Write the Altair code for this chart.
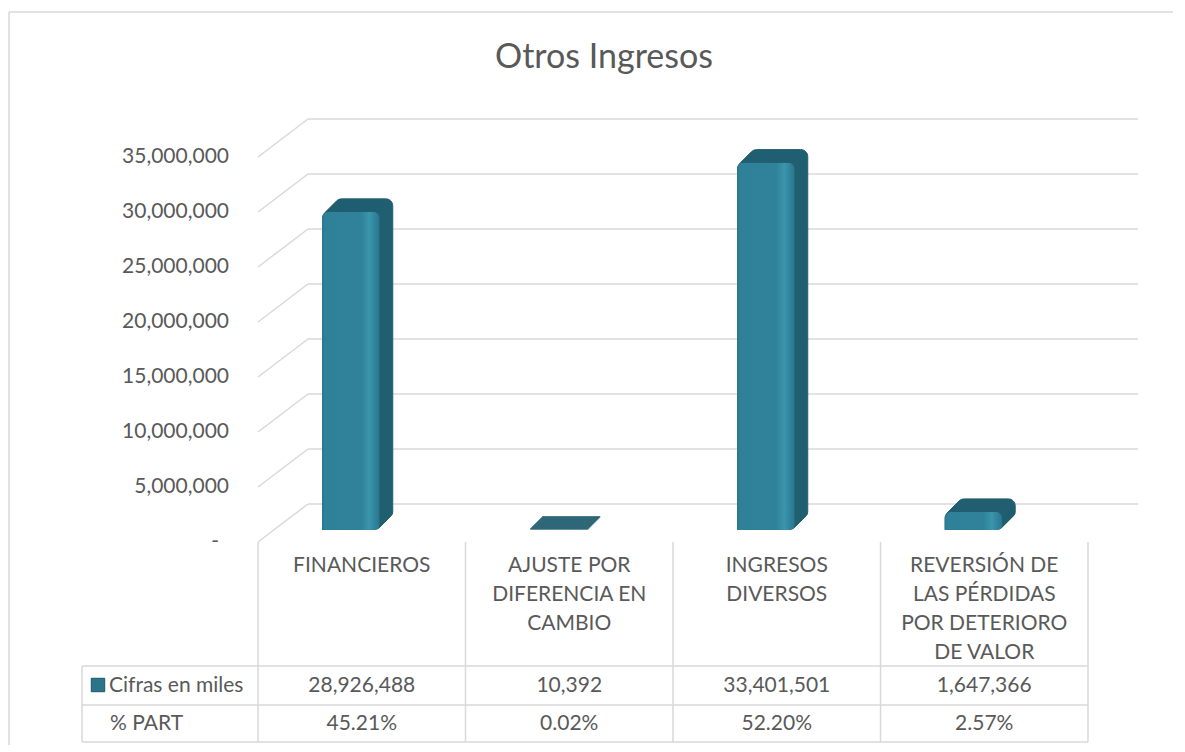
import altair as alt
import pandas as pd

# ---------------- data ----------------
categories = [
    "FINANCIEROS",
    "AJUSTE POR DIFERENCIA EN CAMBIO",
    "INGRESOS DIVERSOS",
    "REVERSIÓN DE LAS PÉRDIDAS POR DETERIORO DE VALOR",
]
header_labels = [
    "FINANCIEROS",
    "AJUSTE POR\nDIFERENCIA EN\nCAMBIO",
    "INGRESOS\nDIVERSOS",
    "REVERSIÓN DE\nLAS PÉRDIDAS\nPOR DETERIORO\nDE VALOR",
]
values = [28926488, 10392, 33401501, 1647366]
shares = [45.21, 0.02, 52.20, 2.57]
row_labels = ["Cifras en miles", "% PART"]
y_ticks = [0, 5000000, 10000000, 15000000, 20000000, 25000000, 30000000, 35000000]
title_text = "Otros Ingresos"

# ---------------- styles ----------------
FONT = "Lato"
GRAY = "#595959"
LINE = "#D9D9D9"
SIDE = "#215F71"
W, H = 830, 385          # front plane of the 3-D plot
DX, DY = 50, 38          # depth of the back wall (px)
BW = 58                  # bar width
BX, BY = -11, -12        # bar position inside the depth
DEPTH = 13               # bar thickness

bars = pd.DataFrame({"cat": categories, "header": header_labels,
                     "value": values, "share": shares})
bars["value_txt"] = bars["value"].map(lambda v: f"{v:,}")
bars["share_txt"] = bars["share"].map(lambda s: f"{s:.2f}%")
grid = pd.DataFrame({"v": y_ticks})
grid["lab"] = grid["v"].map(lambda v: "-" if v == 0 else f"{v:,}")
one = pd.DataFrame({"k": [0]})

YMAX = 35000000
xs = alt.Scale(domain=categories, paddingInner=0, paddingOuter=0)
ys = alt.Scale(domain=[0, YMAX], nice=False, zero=True, range=[H, 0])
X = alt.X("cat:N", scale=xs, axis=None, sort=categories)


def bar_y(shift):
    """y encoding of a bar face lifted `shift` px into the depth."""
    return alt.Y("value:Q", axis=None,
                 scale=alt.Scale(domain=[0, YMAX], nice=False, zero=True,
                                 range=[H - shift, -shift]))


layers = []

# outer chart border (left + top)
layers.append(alt.Chart(one).mark_rule(color=LINE, strokeWidth=1.5).encode(
    x=alt.value(-249), y=alt.value(-145), y2=alt.value(600)))
layers.append(alt.Chart(one).mark_rule(color=LINE, strokeWidth=1.5).encode(
    x=alt.value(-249), x2=alt.value(930), y=alt.value(-145)))

# title
layers.append(alt.Chart(pd.DataFrame({"t": [title_text]})).mark_text(
    font=FONT, fontSize=34, color=GRAY, align="center", baseline="middle").encode(
    x=alt.value(346), y=alt.value(-99), text="t:N"))

# back wall gridlines
layers.append(alt.Chart(grid).mark_rule(color=LINE, strokeWidth=1.5,
                                        yOffset=-DY, y2Offset=-DY).encode(
    y=alt.Y("v:Q", scale=ys, axis=None), y2=alt.Y2("v:Q"),
    x=alt.value(DX), x2=alt.value(W + DX)))
# side wall diagonals
layers.append(alt.Chart(grid).mark_rule(color=LINE, strokeWidth=1.5,
                                        y2Offset=-DY).encode(
    y=alt.Y("v:Q", scale=ys, axis=None), y2=alt.Y2("v:Q"),
    x=alt.value(0), x2=alt.value(DX)))
# y axis labels (the zero label "-" sits a little further left, as in Excel)
layers.append(alt.Chart(grid).transform_filter("datum.v > 0").mark_text(
    font=FONT, fontSize=21, color=GRAY, align="right", baseline="middle").encode(
    y=alt.Y("v:Q", scale=ys, axis=None), x=alt.value(-29), text="lab:N"))
layers.append(alt.Chart(grid).transform_filter("datum.v == 0").mark_text(
    font=FONT, fontSize=21, color=GRAY, align="right", baseline="middle").encode(
    y=alt.Y("v:Q", scale=ys, axis=None), x=alt.value(-39), text="lab:N"))

# bar extrusion (side and top faces)
for i in range(DEPTH, 0, -1):
    layers.append(alt.Chart(bars).mark_bar(
        width=BW, xOffset=BX + i,
        color=SIDE, stroke=SIDE, strokeWidth=1,
        cornerRadiusTopLeft=7, cornerRadiusTopRight=7,
        cornerRadiusBottomRight=5).encode(x=X, y=bar_y(-BY + i)))

# bar front face
front = alt.Gradient(
    gradient="linear", x1=0, x2=1, y1=0, y2=0,
    stops=[alt.GradientStop(color="#2A758B", offset=0),
           alt.GradientStop(color="#2E8199", offset=0.06),
           alt.GradientStop(color="#2F8299", offset=0.68),
           alt.GradientStop(color="#3A95AD", offset=0.82),
           alt.GradientStop(color="#2E8098", offset=0.94),
           alt.GradientStop(color="#29768B", offset=1)])
layers.append(alt.Chart(bars).mark_bar(
    width=BW, xOffset=BX, color=front,
    cornerRadiusTopLeft=7, cornerRadiusTopRight=7,
    cornerRadiusBottomRight=5).encode(x=X, y=bar_y(-BY)))

# ---------------- data table ----------------
TL = -176   # table left edge
ROW1, ROW2, ROW3 = 509, 548, 585
layers.append(alt.Chart(bars).mark_rule(color=LINE, strokeWidth=1.5).encode(
    x=alt.X("cat:N", scale=xs, axis=None, sort=categories, bandPosition=0),
    y=alt.value(H), y2=alt.value(ROW3)))
layers.append(alt.Chart(one).mark_rule(color=LINE, strokeWidth=1.5).encode(
    x=alt.value(W), y=alt.value(H), y2=alt.value(ROW3)))
layers.append(alt.Chart(one).mark_rule(color=LINE, strokeWidth=1.5).encode(
    x=alt.value(TL), y=alt.value(ROW1), y2=alt.value(ROW3)))
for yy in (ROW1, ROW2, ROW3):
    layers.append(alt.Chart(one).mark_rule(color=LINE, strokeWidth=1.5).encode(
        x=alt.value(TL), x2=alt.value(W), y=alt.value(yy)))

layers.append(alt.Chart(bars).mark_text(
    font=FONT, fontSize=21, color=GRAY, align="center", baseline="top",
    lineBreak="\n", lineHeight=29).encode(
    x=X, y=alt.value(398), text="header:N"))
layers.append(alt.Chart(bars).mark_text(
    font=FONT, fontSize=21, color=GRAY, align="center", baseline="middle").encode(
    x=X, y=alt.value(529), text="value_txt:N"))
layers.append(alt.Chart(bars).mark_text(
    font=FONT, fontSize=21, color=GRAY, align="center", baseline="middle").encode(
    x=X, y=alt.value(567), text="share_txt:N"))

layers.append(alt.Chart(pd.DataFrame({"t": [row_labels[0]]})).mark_text(
    font=FONT, fontSize=21, color=GRAY, align="left", baseline="middle").encode(
    x=alt.value(-149), y=alt.value(529), text="t:N"))
layers.append(alt.Chart(pd.DataFrame({"t": [row_labels[1]]})).mark_text(
    font=FONT, fontSize=21, color=GRAY, align="left", baseline="middle").encode(
    x=alt.value(-148), y=alt.value(567), text="t:N"))
layers.append(alt.Chart(one).mark_square(
    size=180, color="#2A7589", stroke="#1D5464", strokeWidth=1, opacity=1,
    filled=True).encode(x=alt.value(-160), y=alt.value(528)))

chart = alt.layer(*layers).resolve_scale(y="independent").properties(
    width=W, height=H,
    autosize=alt.AutoSizeParams(type="none"),
    padding={"left": 250, "top": 149, "right": 85, "bottom": 203},
).configure_view(stroke=None)

chart.save("out.html", embed_options={"renderer": "svg", "actions": False})
